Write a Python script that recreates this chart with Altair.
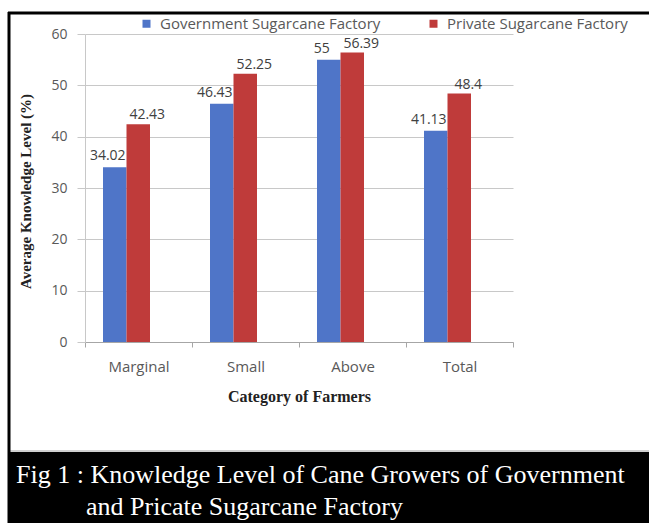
import altair as alt
import pandas as pd

categories = ["Marginal", "Small", "Above", "Total"]
series = ["Government Sugarcane Factory", "Private Sugarcane Factory"]
government = [34.02, 46.43, 55, 41.13]
private = [42.43, 52.25, 56.39, 48.4]
y_ticks = [0, 10, 20, 30, 40, 50, 60]
colors = ["#4F75C8", "#BF3B3A"]
caption_1 = "Fig 1 : Knowledge Level of Cane Growers of Government"
caption_2 = "and Pricate Sugarcane Factory"

rows = []
for c, g, p in zip(categories, government, private):
    rows.append({"category": c, "series": series[0], "value": g, "label": f"{g:g}"})
    rows.append({"category": c, "series": series[1], "value": p, "label": f"{p:g}"})
df = pd.DataFrame(rows)

OX, OY = 85, 34          # plot origin in the page
W, H = 428, 308          # plot area
TOTAL_W, TOTAL_H = 649, 523
STEP = W / len(categories)
GROUP = 47               # width of a pair of bars
SHIFT = -12              # bars sit a little left of the category centre

SANS = "Open Sans"
SERIF = "Liberation Serif"

x_enc = alt.X(
    "category:N", sort=categories,
    scale=alt.Scale(paddingInner=0, paddingOuter=0),
    axis=alt.Axis(
        title="Category of Farmers", titleFont=SERIF, titleFontWeight="bold",
        titleFontSize=16, titleColor="#222222", titlePadding=14,
        labelFont=SANS, labelFontSize=15, labelColor="#595959", labelAngle=0,
        labelPadding=12, tickBand="extent", tickSize=5, tickColor="#a6a6a6",
        domainColor="#a6a6a6", grid=False,
    ),
)
xoff_enc = alt.XOffset(
    "series:N", sort=series,
    scale=alt.Scale(paddingInner=0, paddingOuter=0,
                    range=[(STEP - GROUP) / 2 + SHIFT, (STEP + GROUP) / 2 + SHIFT]),
)
y_enc = alt.Y(
    "value:Q", scale=alt.Scale(domain=[0, 60]),
    axis=alt.Axis(
        values=y_ticks, title="Average Knowledge Level (%)", titleFont=SERIF,
        titleFontWeight="bold", titleFontSize=15, titleColor="#222222",
        titleX=25 - OX, titleY=H / 2 + 3, titleBaseline="middle",
        labelFont=SANS, labelFontSize=14, labelColor="#595959", labelPadding=10,
        tickSize=8, tickColor="#c8c8c8", gridColor="#c8c8c8",
        domainColor="#c8c8c8",
    ),
)
color_enc = alt.Color(
    "series:N", sort=series, scale=alt.Scale(domain=series, range=colors),
    legend=alt.Legend(
        title=None, orient="none", legendX=54, legendY=-18,
        direction="horizontal", symbolType="square", symbolSize=64,
        symbolStrokeWidth=0, labelFont=SANS, labelFontSize=15, labelLimit=0,
        labelColor="#595959", columnPadding=45, labelOffset=6,
    ),
)

bars = alt.Chart(df).mark_bar().encode(x=x_enc, xOffset=xoff_enc, y=y_enc, color=color_enc)

gov_labels = alt.Chart(df).transform_filter(
    alt.datum.series == series[0]
).mark_text(
    baseline="bottom", dy=-4, dx=-7, font=SANS, fontSize=14, color="#404040"
).encode(x=x_enc, xOffset=xoff_enc, y=y_enc, text="label:N")

pri_labels = alt.Chart(df).transform_filter(
    alt.datum.series == series[1]
).mark_text(
    baseline="bottom", dy=-2, dx=9, font=SANS, fontSize=14, color="#404040"
).encode(x=x_enc, xOffset=xoff_enc, y=y_enc, text="label:N")

one = pd.DataFrame({"k": [0]})

band = alt.Chart(one).mark_rect(color="black").encode(
    x=alt.value(8 - OX), x2=alt.value(TOTAL_W - OX),
    y=alt.value(452 - OY), y2=alt.value(TOTAL_H - OY),
)
sep = alt.Chart(one).mark_rule(color="#a0a0a0", strokeWidth=1).encode(
    x=alt.value(10 - OX), x2=alt.value(TOTAL_W - OX),
    y=alt.value(451 - OY),
)
top_border = alt.Chart(one).mark_rule(color="black", strokeWidth=3).encode(
    x=alt.value(8 - OX), x2=alt.value(TOTAL_W - OX),
    y=alt.value(13 - OY),
)
left_border = alt.Chart(one).mark_rule(color="black", strokeWidth=3).encode(
    x=alt.value(9 - OX), y=alt.value(12 - OY), y2=alt.value(TOTAL_H - OY),
)
cap1 = alt.Chart(one).mark_text(
    align="left", baseline="middle", font=SERIF, fontSize=26, color="white"
).encode(x=alt.value(16 - OX), y=alt.value(475 - OY), text=alt.value(caption_1))
cap2 = alt.Chart(one).mark_text(
    align="left", baseline="middle", font=SERIF, fontSize=26, color="white"
).encode(x=alt.value(86 - OX), y=alt.value(507 - OY), text=alt.value(caption_2))

chart = alt.layer(
    bars, gov_labels, pri_labels, band, sep, top_border, left_border, cap1, cap2
).properties(
    width=W, height=H,
    autosize=alt.AutoSizeParams(type="none"),
    padding={"left": OX, "top": OY, "right": TOTAL_W - OX - W, "bottom": TOTAL_H - OY - H},
    background="white",
).configure_view(stroke=None)

chart.save("out.html", embed_options={"renderer": "svg", "actions": False})
